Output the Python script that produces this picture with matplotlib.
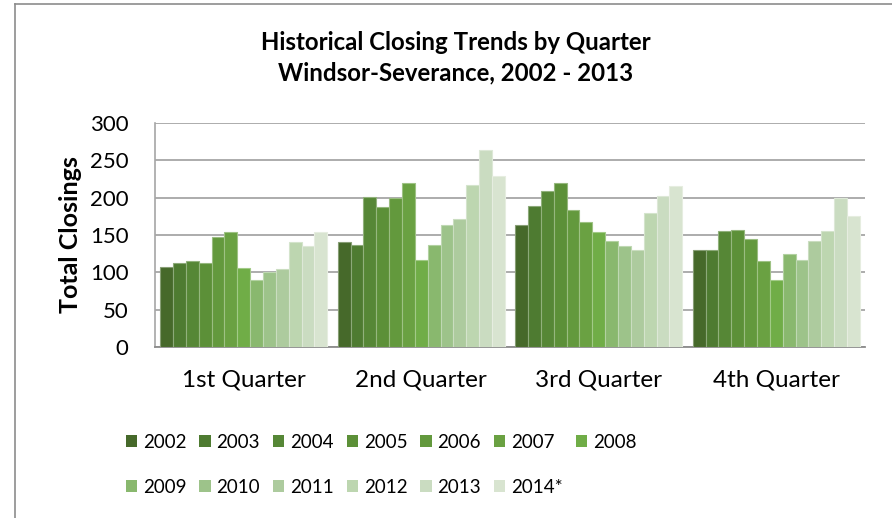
import numpy as np
import matplotlib.pyplot as plt
from matplotlib.lines import Line2D
from matplotlib.patches import Patch
from matplotlib.colors import to_rgb

plt.rcParams['font.family'] = ['Lato', 'DejaVu Sans']

quarters = ["1st Quarter", "2nd Quarter", "3rd Quarter", "4th Quarter"]
years = ["2002", "2003", "2004", "2005", "2006", "2007", "2008",
         "2009", "2010", "2011", "2012", "2013", "2014*"]

# closings per quarter, one list per year
closings = {
    "2002": [107, 140, 164, 130],
    "2003": [112, 137, 189, 130],
    "2004": [115, 201, 209, 156],
    "2005": [112, 187, 220, 157],
    "2006": [147, 200, 184, 145],
    "2007": [154, 219, 167, 115],
    "2008": [106, 116, 154, 90],
    "2009": [90, 137, 142, 125],
    "2010": [100, 164, 135, 116],
    "2011": [104, 172, 130, 142],
    "2012": [140, 217, 180, 155],
    "2013": [135, 264, 202, 200],
    "2014*": [154, 229, 215, 175],
}

colors = ["#46692a", "#4e7b31", "#568736", "#5c9038", "#63993d", "#6aa142",
          "#70ad47", "#89b86e", "#9dc38a", "#adcb9e", "#bdd6b0", "#cadcc1",
          "#d8e4d0"]

fig = plt.figure(figsize=(8.92, 5.18), dpi=100)
W, H = 892, 518
ax = fig.add_axes([155 / W, (H - 347) / H, 710 / W, 224 / H])

x = np.arange(len(quarters))
w = 0.0724
for j, yr in enumerate(years):
    c = np.array(to_rgb(colors[j]))
    edge = c + (1 - c) * 0.35
    ax.bar(x + (j - 6) * w, closings[yr], width=w, color=colors[j],
           edgecolor=edge, linewidth=0.8, zorder=3)

ax.set_xlim(-0.5, 3.5)
ax.set_ylim(0, 300)
ax.set_yticks(range(0, 301, 50))
ax.set_xticks(x)
ax.set_xticklabels(quarters, fontsize=17.5)
ax.tick_params(axis='y', length=0, pad=19, labelsize=16)
ax.tick_params(axis='x', length=0, pad=16)
ax.grid(axis='y', color='#a6a6a6', linewidth=1.3, zorder=0)
for s in ['top', 'right']:
    ax.spines[s].set_visible(False)
ax.spines['left'].set_color('#a6a6a6')
ax.spines['left'].set_linewidth(1.2)
ax.spines['bottom'].set_color('#8c8c8c')
ax.spines['bottom'].set_linewidth(1.3)
ax.set_ylabel("Total Closings", fontsize=18, fontweight='bold', labelpad=6)

fig.text(456 / W, 1 - 42 / H, "Historical Closing Trends by Quarter",
         ha='center', va='center', fontsize=17.3, fontweight='bold')
fig.text(456 / W, 1 - 73 / H, "Windsor-Severance, 2002 - 2013",
         ha='center', va='center', fontsize=17.3, fontweight='bold')

# legend filled column by column: 2002/2009, 2003/2010, ... 2008
order = []
for k in range(6):
    order += [k, k + 7]
order.append(6)
handles = [Patch(facecolor=colors[i], edgecolor='none') for i in order]
labels = [years[i] for i in order]
fig.legend(handles, labels, ncol=7, frameon=False, fontsize=13.5,
           handlelength=0.6, handleheight=0.6, handletextpad=0.3,
           columnspacing=0.7, labelspacing=1.5,
           loc='upper left', bbox_to_anchor=(109 / W, 1 - 417 / H))

# chart frame
fig.add_artist(Line2D([15 / W, 1], [1 - 4 / H, 1 - 4 / H], color='#8c8c8c', lw=1.2))
fig.add_artist(Line2D([15 / W, 15 / W], [0, 1 - 4 / H], color='#8c8c8c', lw=1.2))

fig.savefig("out.png", dpi=100)
